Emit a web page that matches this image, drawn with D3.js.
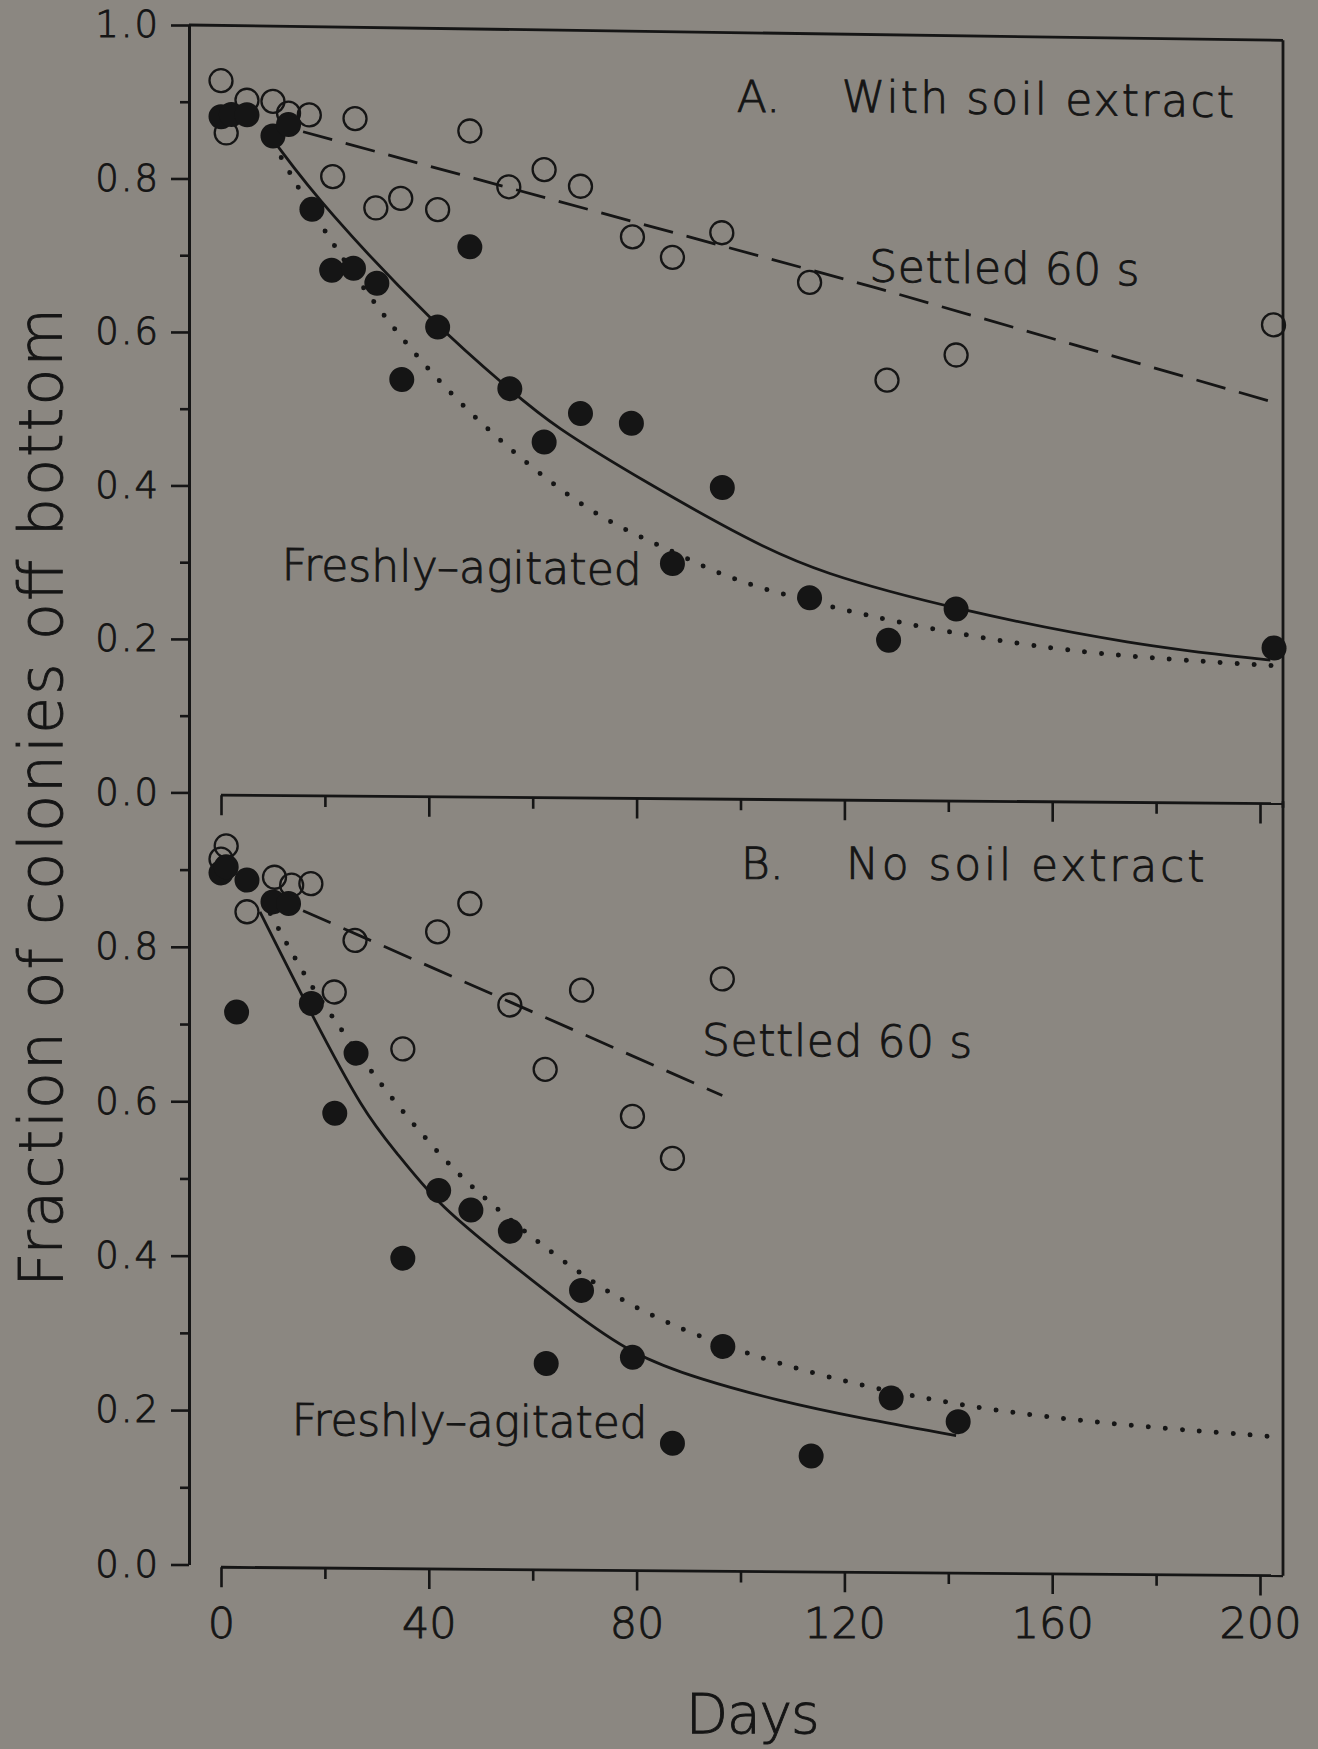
<!DOCTYPE html>
<html>
<head>
<meta charset="utf-8">
<script src="https://cdn.jsdelivr.net/npm/d3@7"></script>
<style>
  html, body { margin: 0; padding: 0; background: #8b8781; }
  svg { display: block; }
  text { font-weight: 200; stroke: #151515; stroke-width: 0.9px; }
</style>
</head>
<body>
<svg id="chart" width="1318" height="1749"></svg>
<script>
// #region Data (days, fraction of colonies off bottom)
// Panel A: with soil extract
const aSettled = [
  [0, 0.928], [1, 0.86], [5, 0.903], [10, 0.902], [13, 0.887], [17, 0.885],
  [21.5, 0.805], [25.8, 0.881], [29.8, 0.765], [34.6, 0.778], [41.7, 0.764],
  [47.9, 0.867], [55.4, 0.795], [62.2, 0.818], [69.2, 0.797], [79.2, 0.732],
  [86.9, 0.706], [96.4, 0.739], [113.3, 0.676], [128.2, 0.55], [141.5, 0.584],
  [202.6, 0.629]
];
const aAgitated = [
  [0, 0.881], [2, 0.884], [5, 0.884], [10, 0.857], [13, 0.872], [17.5, 0.762],
  [21.3, 0.683], [25.5, 0.686], [30, 0.667], [34.8, 0.542], [41.7, 0.611],
  [47.9, 0.716], [55.6, 0.532], [62.2, 0.463], [69.2, 0.501], [79, 0.489],
  [86.9, 0.307], [96.5, 0.407], [113.3, 0.265], [128.5, 0.211], [141.5, 0.253],
  [202.7, 0.208]
];
const aSettledFit = [[15.8, 0.863], [125.6, 0.671], [202.2, 0.529]];
const aAgitatedFit = [
  [10, 0.852], [19.8, 0.764], [41.6, 0.611], [55.4, 0.532], [63.7, 0.485],
  [82.1, 0.411], [101.8, 0.338], [115, 0.298], [141.5, 0.252], [175.7, 0.209],
  [202, 0.192]
];
const aAgitatedFitDotted = [
  [10, 0.848], [18.4, 0.748], [30.5, 0.629], [44.5, 0.519], [60, 0.427],
  [73.3, 0.363], [85, 0.329], [93.7, 0.301], [100.5, 0.284], [107.4, 0.27],
  [130.1, 0.233], [160.5, 0.201], [183.3, 0.191], [202.3, 0.185]
];

// Panel B: no soil extract
const bSettled = [
  [0, 0.914], [1, 0.931], [5, 0.846], [10.3, 0.891], [13.6, 0.881], [17.3, 0.883],
  [21.8, 0.743], [25.8, 0.81], [35, 0.67], [41.7, 0.822], [47.9, 0.859],
  [55.6, 0.728], [62.4, 0.645], [69.4, 0.748], [79.2, 0.585], [86.9, 0.531],
  [96.5, 0.764]
];
const bAgitated = [
  [0, 0.896], [1, 0.904], [3, 0.716], [5, 0.887], [10, 0.859], [13, 0.857],
  [17.4, 0.728], [21.9, 0.586], [26, 0.664], [35, 0.399], [41.9, 0.487],
  [48.1, 0.462], [55.7, 0.435], [62.6, 0.264], [69.4, 0.359], [79.2, 0.273],
  [86.9, 0.162], [96.6, 0.288], [113.6, 0.147], [129, 0.223], [141.9, 0.193]
];
const bSettledFit = [[15.8, 0.848], [55.6, 0.732], [96.5, 0.613]];
const bAgitatedFit = [
  [7.5, 0.846], [17.3, 0.715], [27.6, 0.586], [33.5, 0.538], [41.6, 0.47],
  [52.6, 0.41], [67.4, 0.332], [79.2, 0.276], [92.2, 0.245], [107.4, 0.218],
  [122.6, 0.197], [141.5, 0.175]
];
const bAgitatedFitDotted = [
  [9.5, 0.844], [16.5, 0.758], [22.8, 0.698], [28.7, 0.642], [35.3, 0.586],
  [43.1, 0.526], [49, 0.487], [60, 0.426], [73.3, 0.36], [85.8, 0.317],
  [100.1, 0.281], [116.5, 0.249], [134.7, 0.223], [152.9, 0.204],
  [175.7, 0.189], [202.3, 0.177]
];

const xTicks = [0, 40, 80, 120, 160, 200];
const xMinorTicks = [20, 60, 100, 140, 180];
const yTicksA = [0, 0.2, 0.4, 0.6, 0.8, 1.0];
const yTicksB = [0, 0.2, 0.4, 0.6, 0.8];
const yMinorTicks = [0.1, 0.3, 0.5, 0.7, 0.9];
// #endregion

const ink = "#151515";
const font = "'DejaVu Sans', sans-serif";
const axisX = 189;
const frameRight = 1283;
const axisGap = 2.5;

const svg = d3.select("#chart");
svg.append("rect").attr("width", 1318).attr("height", 1749).attr("fill", "#8b8781");

const x = d3.scaleLinear().domain([0, 200]).range([221, 1260]);
const yA = d3.scaleLinear().domain([0, 1]).range([792.4, 25]);
const yB = d3.scaleLinear().domain([0, 1]).range([1564.5, 792.4]);

// the scanned page is slightly slanted, each panel gets its own small skew
function panelGroup(slant) {
  const deg = (Math.atan(slant) * 180) / Math.PI;
  return svg
    .append("g")
    .attr("transform", `translate(${axisX},0) skewY(${deg}) translate(${-axisX},0)`);
}

function frameLine(g, x1, y1, x2, y2) {
  g.append("line")
    .attr("x1", x1).attr("y1", y1).attr("x2", x2).attr("y2", y2)
    .attr("stroke", ink).attr("stroke-width", 2.8);
}

function xTickRow(g, yPos) {
  const row = g.append("g").attr("transform", `translate(0,${yPos})`).style("color", ink);
  row.call(d3.axisBottom(x).tickValues(xTicks).tickFormat("").tickSize(20).tickSizeOuter(0));
  row.append("g").call(d3.axisBottom(x).tickValues(xMinorTicks).tickFormat("").tickSize(11).tickSizeOuter(0));
  row.selectAll(".domain").remove();
  row.selectAll("line").attr("stroke-width", 2.6);
}

function yAxis(scale, ticks) {
  const g = svg.append("g").attr("transform", `translate(${axisX},0)`).style("color", ink);
  g.call(
    d3.axisLeft(scale).tickValues(ticks).tickFormat(d3.format(".1f"))
      .tickSize(18).tickSizeOuter(0).tickPadding(11)
  );
  g.append("g")
    .call(d3.axisLeft(scale).tickValues(yMinorTicks).tickFormat("").tickSize(9).tickSizeOuter(0))
    .call((s) => s.select(".domain").remove());
  g.attr("font-family", font).attr("font-size", 37);
  g.selectAll("text").attr("letter-spacing", 2);
  g.selectAll("line").attr("stroke-width", 2.6);
  g.select(".domain").attr("stroke-width", 3);
}

function drawSeries(g, y, p) {
  const line = (curve) => d3.line().x((d) => x(d[0])).y((d) => y(d[1])).curve(curve);

  g.append("path").attr("d", line(d3.curveLinear)(p.settledFit))
    .attr("fill", "none").attr("stroke", ink).attr("stroke-width", 2.8)
    .attr("stroke-dasharray", "30 14");
  g.append("path").attr("d", line(d3.curveBasis)(p.solidFit))
    .attr("fill", "none").attr("stroke", ink).attr("stroke-width", 2.8);
  g.append("path").attr("d", line(d3.curveBasis)(p.dottedFit))
    .attr("fill", "none").attr("stroke", ink).attr("stroke-width", 5)
    .attr("stroke-linecap", "round").attr("stroke-dasharray", "0 17");

  g.selectAll("circle.open")
    .data(p.settled)
    .enter()
    .append("circle")
    .attr("class", "open")
    .attr("cx", (d) => x(d[0]))
    .attr("cy", (d) => y(d[1]))
    .attr("r", 11.5)
    .attr("fill", "none")
    .attr("stroke", ink)
    .attr("stroke-width", 2.3);

  g.selectAll("circle.filled")
    .data(p.agitated)
    .enter()
    .append("circle")
    .attr("class", "filled")
    .attr("cx", (d) => x(d[0]))
    .attr("cy", (d) => y(d[1]))
    .attr("r", 12.5)
    .attr("fill", ink);
}

function label(g, text, x0, y0, x1, size) {
  const t = g.append("text")
    .attr("x", x0).attr("y", y0)
    .attr("font-family", font).attr("font-size", size || 44)
    .attr("fill", ink)
    .text(text);
  if (x1 !== undefined) t.attr("textLength", x1 - x0).attr("lengthAdjust", "spacing");
  return t;
}

// #region Panel A
const gA = panelGroup(0.014);
frameLine(gA, axisX, yA(1), frameRight, yA(1));
frameLine(gA, frameRight, yA(1), frameRight, yA(0));
drawSeries(gA, yA, {
  settled: aSettled, agitated: aAgitated, settledFit: aSettledFit,
  solidFit: aAgitatedFit, dottedFit: aAgitatedFitDotted
});
label(gA, "A.", x(99.3), yA(0.897));
label(gA, "With soil extract", x(119.5), yA(0.899), x(195));
label(gA, "Settled 60 s", x(124.8), yA(0.678), x(176.8));
label(gA, "Freshly–agitated", x(11.7), yA(0.2785), x(81));
// #endregion

// #region Panel B
const gB = panelGroup(0.008);
frameLine(gB, x(0), yB(1) + axisGap, frameRight, yB(1) + axisGap);
frameLine(gB, frameRight, yB(1), frameRight, yB(0) + axisGap);
frameLine(gB, x(0), yB(0) + axisGap, frameRight, yB(0) + axisGap);
xTickRow(gB, yB(1) + axisGap);
xTickRow(gB, yB(0) + axisGap);
drawSeries(gB, yB, {
  settled: bSettled, agitated: bAgitated, settledFit: bSettledFit,
  solidFit: bAgitatedFit, dottedFit: bAgitatedFitDotted
});
label(gB, "B.", x(100.1), yB(0.894));
label(gB, "No soil extract", x(120.3), yB(0.895), x(189.3));
label(gB, "Settled 60 s", x(92.6), yB(0.665), x(144.6));
label(gB, "Freshly–agitated", x(13.6), yB(0.1687), x(82.1));
// #endregion

// #region Axes
yAxis(yA, yTicksA);
yAxis(yB, yTicksB);

const xLabels = svg.append("g")
  .attr("transform", `translate(0,${yB(0) + axisGap})`)
  .style("color", ink)
  .call(d3.axisBottom(x).tickValues(xTicks).tickFormat(d3.format("d")).tickSize(0).tickPadding(40));
xLabels.selectAll(".domain, line").remove();
xLabels.attr("font-family", font).attr("font-size", 43);

svg.append("text")
  .attr("x", 752.7).attr("y", 1733)
  .attr("text-anchor", "middle")
  .attr("font-family", font).attr("font-size", 55)
  .attr("fill", ink)
  .attr("textLength", 134).attr("lengthAdjust", "spacing")
  .text("Days");

svg.append("text")
  .attr("transform", "translate(62,797.5) rotate(-90)")
  .attr("text-anchor", "middle")
  .attr("font-family", font).attr("font-size", 60)
  .attr("fill", ink)
  .attr("textLength", 979).attr("lengthAdjust", "spacing")
  .text("Fraction of colonies off bottom");
// #endregion
</script>
</body>
</html>
